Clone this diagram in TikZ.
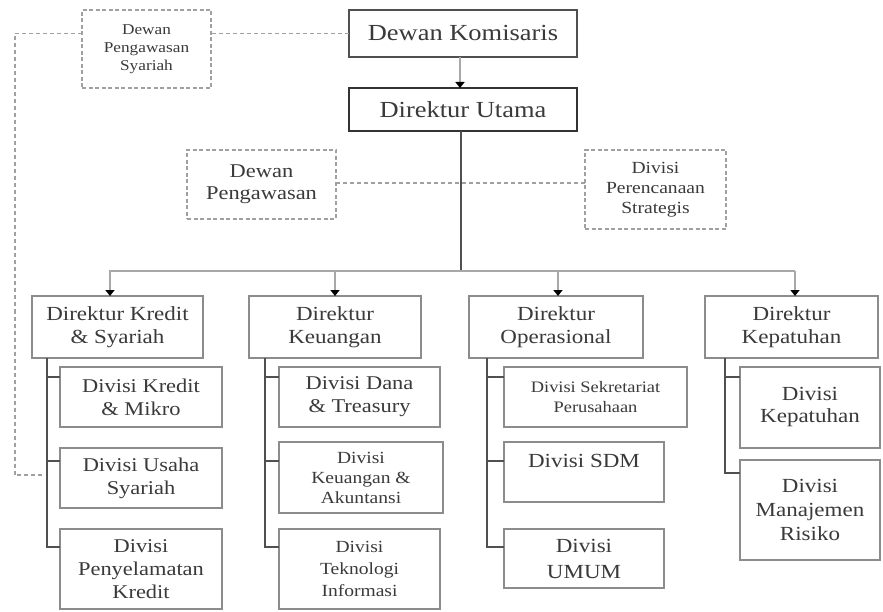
\documentclass[tikz,border=0pt]{standalone}
\usepackage{fontspec}
\setmainfont{Liberation Serif}[FakeStretch=1.15]
\usetikzlibrary{arrows.meta,calc}
\definecolor{txt}{HTML}{3A3A3A}
\definecolor{boxgray}{HTML}{8C8C8C}
\definecolor{darkline}{HTML}{505050}
\definecolor{dashgray}{HTML}{A0A0A0}
\definecolor{busgray}{HTML}{A8A8A8}
\newcommand{\fs}[2]{\fontsize{#1}{#2}\selectfont}
\tikzset{
  basebox/.style={rectangle, inner sep=0pt, outer sep=0pt, align=center, text=txt, line width=2pt},
  topbox/.style={basebox, draw=darkline, line width=2.2pt, font=\fs{23}{26}},
  dirbox/.style={basebox, draw=boxgray, font=\fs{20}{23}},
  divbox/.style={basebox, draw=boxgray, font=\fs{19.5}{23}},
  dashbox/.style={basebox, draw=dashgray, line width=1.6pt, dash pattern=on 4pt off 2.5pt},
  dashline/.style={draw=dashgray, line width=1.4pt, dash pattern=on 4pt off 3pt},
  vline/.style={draw=darkline, line width=2.2pt},
  busline/.style={draw=busgray, line width=2.6pt},
  arr/.style={draw=busgray, line width=2pt, -{Triangle[width=9pt,length=6pt,color=black]}},
}
\newcommand{\bx}[7]{% style, name, x1, y1, x2, y2, text
  \node[#1, minimum width={(#5)-(#3)}, minimum height={(#6)-(#4)}] (#2) at ({((#3)+(#5))/2},{((#4)+(#6))/2}) {#7};}
\begin{document}
\begin{tikzpicture}[x=1pt,y=-1pt]
\useasboundingbox[fill=white] (0,0) rectangle (883,612);
% top level
\bx{dashbox, font=\fs{15}{18}}{syar}{82}{10}{211}{88}{Dewan\\Pengawasan\\Syariah}
\bx{topbox}{kom}{349}{10}{577}{57}{Dewan Komisaris}
\bx{topbox, draw=black!80}{uta}{349}{88}{577}{131}{Direktur Utama}
\bx{dashbox, font=\fs{19.5}{22}}{peng}{187}{150}{336}{219}{Dewan\\Pengawasan}
\bx{dashbox, font=\fs{17}{20}}{renc}{585}{150}{726}{229}{Divisi\\Perencanaan\\Strategis}
% directors
\bx{dirbox}{d1}{32}{296}{203}{358}{Direktur Kredit\\\& Syariah}
\bx{dirbox}{d2}{249}{296}{421}{358}{Direktur\\Keuangan}
\bx{dirbox}{d3}{469}{296}{643}{358}{Direktur\\Operasional}
\bx{dirbox}{d4}{705}{296}{878}{358}{Direktur\\Kepatuhan}
% column 1
\bx{divbox}{a1}{60}{367}{222}{427}{Divisi Kredit\\\& Mikro}
\bx{divbox}{a2}{60}{448}{222}{508}{Divisi Usaha\\Syariah}
\bx{divbox}{a3}{60}{529}{222}{609}{Divisi\\Penyelamatan\\Kredit}
% column 2
\bx{divbox}{b1}{279}{367}{440}{427}{Divisi Dana\\\& Treasury}
\bx{divbox, font=\fs{17}{20}}{b2}{279}{442}{443}{513}{Divisi\\Keuangan \&\\Akuntansi}
\bx{divbox, font=\fs{17}{22}}{b3}{279}{529}{440}{609}{Divisi\\Teknologi\\Informasi}
% column 3
\bx{divbox, font=\fs{16}{20}}{c1}{504}{367}{687}{427}{Divisi Sekretariat\\Perusahaan}
\node[divbox, minimum width=160pt, minimum height=60pt] (c2) at (584,472) {};
\node[text=txt, font=\fs{20}{23}, anchor=north, inner sep=0pt] (c2t) at ([yshift=-12pt]c2.north) {Divisi SDM};
\bx{divbox, font=\fs{20}{26}}{c3}{504}{529}{664}{588}{Divisi\\UMUM}
% column 4
\bx{divbox, font=\fs{20}{22}}{e1}{740}{367}{880}{448}{Divisi\\Kepatuhan}
\bx{divbox, font=\fs{20}{24}}{e2}{740}{460}{880}{560}{Divisi\\Manajemen\\Risiko}
% dashed connections
\coordinate (sycorner) at (15,33.5);
\coordinate (syend) at (47,475);
\draw[dashline] (kom.west) -- (kom.west -| syar.east);
\draw[dashline] (syar.west |- kom.west) -- (sycorner) |- (syend);
\draw[dashline] (peng.east |- 0,183) -- (renc.west |- 0,183);
% main hierarchy
\draw[arr] ([xshift=-3pt]kom.south) -- ([xshift=-3pt]uta.north);
\coordinate (busy) at (0,271);
\draw[vline, line width=2.6pt] ([xshift=-2pt]uta.south) -- ([xshift=-2pt]uta.south |- busy);
\draw[busline] ([xshift=-8.5pt]d1.north |- busy) -- ([xshift=3.5pt]d4.north |- busy);
\draw[arr] ([xshift=-7.5pt]d1.north |- busy) -- ([xshift=-7.5pt]d1.north);
\draw[arr] (d2.north |- busy) -- (d2.north);
\draw[arr] ([xshift=2pt]d3.north |- busy) -- ([xshift=2pt]d3.north);
\draw[arr] ([xshift=3.5pt]d4.north |- busy) -- ([xshift=3.5pt]d4.north);
% column connectors
\draw[vline] ([xshift=15pt]d1.south west) |- ([yshift=-18pt]a3.north west);
\draw[vline] ([xshift=15pt]d1.south west |- a1.north west) ++(0,10) -- ([yshift=-10pt]a1.north west);
\draw[vline] ([xshift=15pt]d1.south west |- a2.north west) ++(0,13) -- ([yshift=-13pt]a2.north west);
\draw[vline] ([xshift=16pt]d2.south west) |- ([yshift=-18pt]b3.north west);
\draw[vline] ([xshift=16pt]d2.south west |- b1.north west) ++(0,10) -- ([yshift=-10pt]b1.north west);
\draw[vline] ([xshift=16pt]d2.south west |- b2.north west) ++(0,19) -- ([yshift=-19pt]b2.north west);
\draw[vline] ([xshift=18pt]d3.south west) |- ([yshift=-18pt]c3.north west);
\draw[vline] ([xshift=18pt]d3.south west |- c1.north west) ++(0,10) -- ([yshift=-10pt]c1.north west);
\draw[vline] ([xshift=18pt]d3.south west |- c2.north west) ++(0,19) -- ([yshift=-19pt]c2.north west);
\draw[vline] ([xshift=20pt]d4.south west) |- ([yshift=-13pt]e2.north west);
\draw[vline] ([xshift=20pt]d4.south west |- e1.north west) ++(0,10) -- ([yshift=-10pt]e1.north west);
\end{tikzpicture}
\end{document}
